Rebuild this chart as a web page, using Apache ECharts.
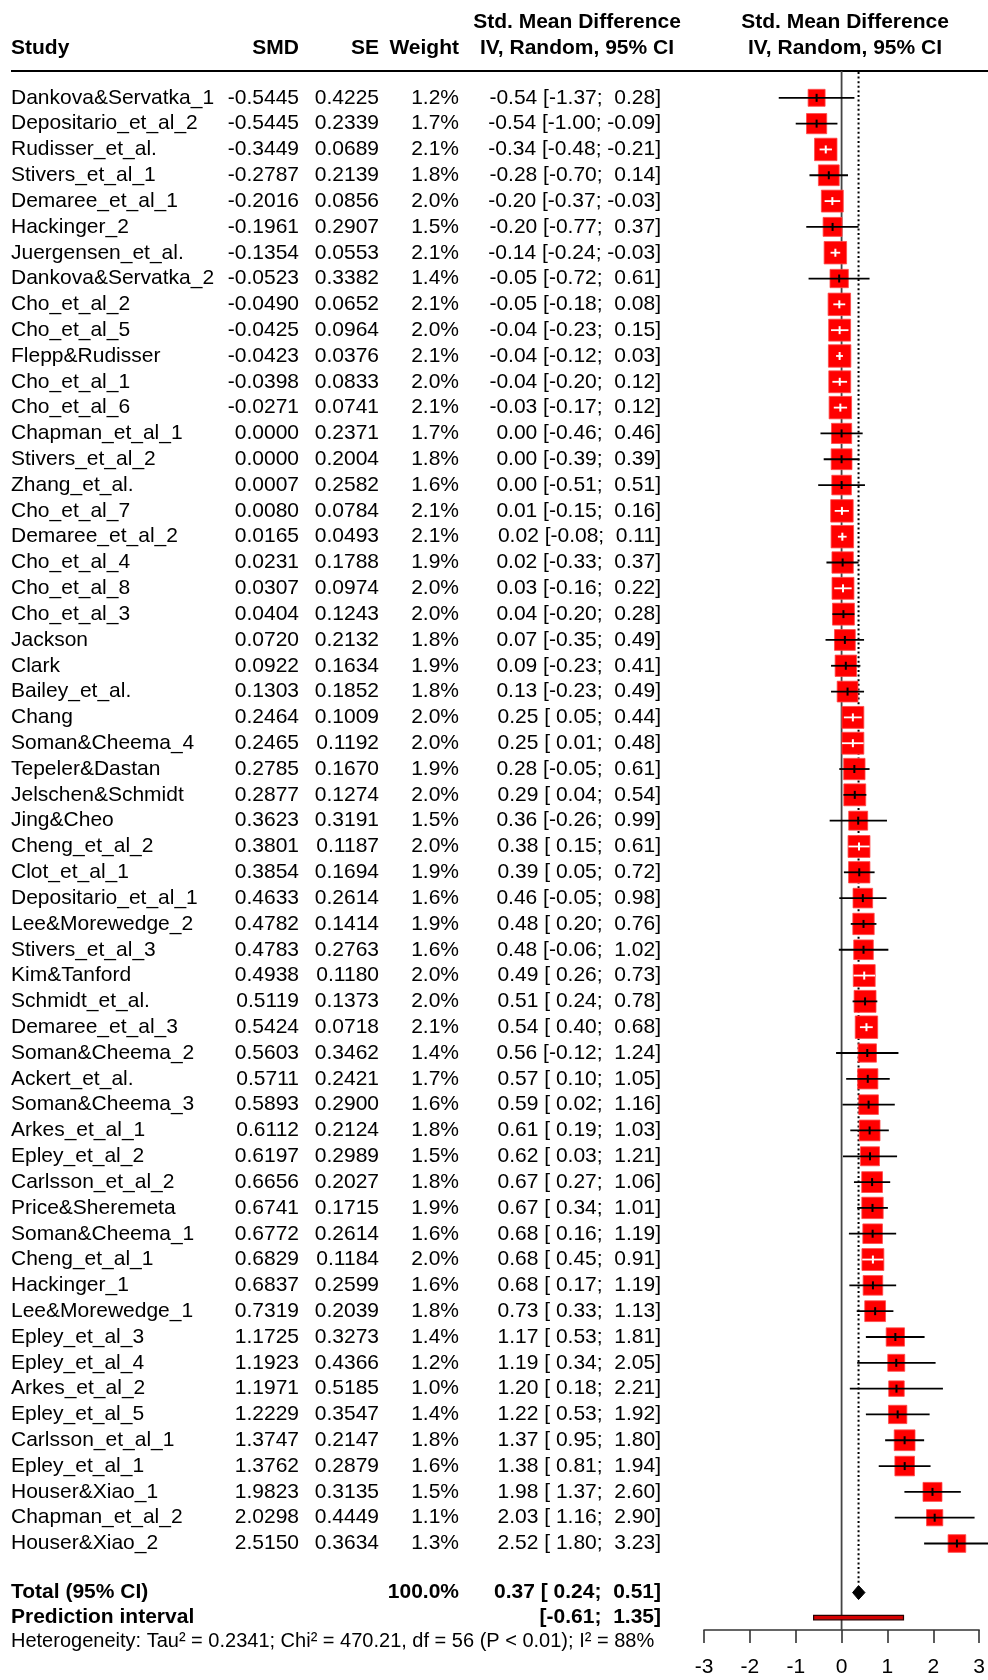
<!DOCTYPE html>
<html>
<head>
<meta charset="utf-8">
<script src="https://cdn.jsdelivr.net/npm/echarts@6/dist/echarts.min.js"></script>
<style>
  html, body { margin: 0; padding: 0; background: #ffffff; }
  #chart { width: 988px; height: 1680px; }
</style>
</head>
<body>
<div id="chart"></div>
<script>
// ---- Study-level data ----
const studies = [
  'Dankova&Servatka_1', 'Depositario_et_al_2', 'Rudisser_et_al.', 'Stivers_et_al_1', 'Demaree_et_al_1',
  'Hackinger_2', 'Juergensen_et_al.', 'Dankova&Servatka_2', 'Cho_et_al_2', 'Cho_et_al_5',
  'Flepp&Rudisser', 'Cho_et_al_1', 'Cho_et_al_6', 'Chapman_et_al_1', 'Stivers_et_al_2',
  'Zhang_et_al.', 'Cho_et_al_7', 'Demaree_et_al_2', 'Cho_et_al_4', 'Cho_et_al_8',
  'Cho_et_al_3', 'Jackson', 'Clark', 'Bailey_et_al.', 'Chang',
  'Soman&Cheema_4', 'Tepeler&Dastan', 'Jelschen&Schmidt', 'Jing&Cheo', 'Cheng_et_al_2',
  'Clot_et_al_1', 'Depositario_et_al_1', 'Lee&Morewedge_2', 'Stivers_et_al_3', 'Kim&Tanford',
  'Schmidt_et_al.', 'Demaree_et_al_3', 'Soman&Cheema_2', 'Ackert_et_al.', 'Soman&Cheema_3',
  'Arkes_et_al_1', 'Epley_et_al_2', 'Carlsson_et_al_2', 'Price&Sheremeta', 'Soman&Cheema_1',
  'Cheng_et_al_1', 'Hackinger_1', 'Lee&Morewedge_1', 'Epley_et_al_3', 'Epley_et_al_4',
  'Arkes_et_al_2', 'Epley_et_al_5', 'Carlsson_et_al_1', 'Epley_et_al_1', 'Houser&Xiao_1',
  'Chapman_et_al_2', 'Houser&Xiao_2'
];

const smd = [
  -0.5445, -0.5445, -0.3449, -0.2787, -0.2016,
  -0.1961, -0.1354, -0.0523, -0.0490, -0.0425,
  -0.0423, -0.0398, -0.0271, 0.0000, 0.0000,
  0.0007, 0.0080, 0.0165, 0.0231, 0.0307,
  0.0404, 0.0720, 0.0922, 0.1303, 0.2464,
  0.2465, 0.2785, 0.2877, 0.3623, 0.3801,
  0.3854, 0.4633, 0.4782, 0.4783, 0.4938,
  0.5119, 0.5424, 0.5603, 0.5711, 0.5893,
  0.6112, 0.6197, 0.6656, 0.6741, 0.6772,
  0.6829, 0.6837, 0.7319, 1.1725, 1.1923,
  1.1971, 1.2229, 1.3747, 1.3762, 1.9823,
  2.0298, 2.5150
];

const se = [
  0.4225, 0.2339, 0.0689, 0.2139, 0.0856,
  0.2907, 0.0553, 0.3382, 0.0652, 0.0964,
  0.0376, 0.0833, 0.0741, 0.2371, 0.2004,
  0.2582, 0.0784, 0.0493, 0.1788, 0.0974,
  0.1243, 0.2132, 0.1634, 0.1852, 0.1009,
  0.1192, 0.1670, 0.1274, 0.3191, 0.1187,
  0.1694, 0.2614, 0.1414, 0.2763, 0.1180,
  0.1373, 0.0718, 0.3462, 0.2421, 0.2900,
  0.2124, 0.2989, 0.2027, 0.1715, 0.2614,
  0.1184, 0.2599, 0.2039, 0.3273, 0.4366,
  0.5185, 0.3547, 0.2147, 0.2879, 0.3135,
  0.4449, 0.3634
];

const weight = [
  1.2, 1.7, 2.1, 1.8, 2.0,
  1.5, 2.1, 1.4, 2.1, 2.0,
  2.1, 2.0, 2.1, 1.7, 1.8,
  1.6, 2.1, 2.1, 1.9, 2.0,
  2.0, 1.8, 1.9, 1.8, 2.0,
  2.0, 1.9, 2.0, 1.5, 2.0,
  1.9, 1.6, 1.9, 1.6, 2.0,
  2.0, 2.1, 1.4, 1.7, 1.6,
  1.8, 1.5, 1.8, 1.9, 1.6,
  2.0, 1.6, 1.8, 1.4, 1.2,
  1.0, 1.4, 1.8, 1.6, 1.5,
  1.1, 1.3
];

const ciLower = [
  -1.37, -1.00, -0.48, -0.70, -0.37,
  -0.77, -0.24, -0.72, -0.18, -0.23,
  -0.12, -0.20, -0.17, -0.46, -0.39,
  -0.51, -0.15, -0.08, -0.33, -0.16,
  -0.20, -0.35, -0.23, -0.23, 0.05,
  0.01, -0.05, 0.04, -0.26, 0.15,
  0.05, -0.05, 0.20, -0.06, 0.26,
  0.24, 0.40, -0.12, 0.10, 0.02,
  0.19, 0.03, 0.27, 0.34, 0.16,
  0.45, 0.17, 0.33, 0.53, 0.34,
  0.18, 0.53, 0.95, 0.81, 1.37,
  1.16, 1.80
];

const ciUpper = [
  0.28, -0.09, -0.21, 0.14, -0.03,
  0.37, -0.03, 0.61, 0.08, 0.15,
  0.03, 0.12, 0.12, 0.46, 0.39,
  0.51, 0.16, 0.11, 0.37, 0.22,
  0.28, 0.49, 0.41, 0.49, 0.44,
  0.48, 0.61, 0.54, 0.99, 0.61,
  0.72, 0.98, 0.76, 1.02, 0.73,
  0.78, 0.68, 1.24, 1.05, 1.16,
  1.03, 1.21, 1.06, 1.01, 1.19,
  0.91, 1.19, 1.13, 1.81, 2.05,
  2.21, 1.92, 1.80, 1.94, 2.60,
  2.90, 3.23
];

// ---- Pooled results ----
const pooledEstimate = [0.37, 0.24, 0.51];   // estimate, lower, upper
const predictionInterval = [-0.61, 1.35];
const totalWeight = 100.0;
const hetStats = { tau2: '0.2341', chi2: '470.21', df: 56, p: '< 0.01', i2: '88%' };

// ---- Axis ----
const axisTicks = [-3, -2, -1, 0, 1, 2, 3];

// ---- Layout ----
const FONT = '"Liberation Sans", Arial, Helvetica, sans-serif';
const FS = 21;
const TEXT_COLOR = '#000000';
const COL_STUDY = 11;
const COL_SMD = 299;
const COL_SE = 379;
const COL_WEIGHT = 459;
const COL_CI = 661;
const COL_CI_HEADER = 577;
const COL_PLOT_HEADER = 845;
const Y_MIN = -1;
const Y_MAX = 59.35;
const ROW_TOTAL = 57.9;
const ROW_PRED = 58.87;
const BOX_K = 15.5;          // square side per sqrt(weight %)
const DIAMOND_H = 14;

function fmt2(v) {
  const r = Math.sign(v) * Math.round(Math.abs(v) * 100 + 1e-6) / 100;
  return (r === 0 ? 0 : r).toFixed(2);
}
function padCI(v) {
  const s = fmt2(v);
  return v >= 0 ? ' ' + s : s;
}
function ciText(est, lo, hi) {
  return fmt2(est) + ' [' + padCI(lo) + '; ' + padCI(hi) + ']';
}
function txt(x, y, text, align, bold, size) {
  return {
    type: 'text',
    x: x, y: y,
    style: {
      text: text,
      fill: TEXT_COLOR,
      fontFamily: FONT,
      fontSize: size || FS,
      fontWeight: bold ? 'bold' : 'normal',
      align: align,
      verticalAlign: 'middle'
    }
  };
}

const chart = echarts.init(document.getElementById('chart'), null, { renderer: 'canvas' });

const studyData = studies.map((name, i) => [smd[i], i, ciLower[i], ciUpper[i], weight[i], se[i]]);

const option = {
  animation: false,
  backgroundColor: '#ffffff',
  grid: { left: 704, right: 1, top: 72, bottom: 50, containLabel: false },
  xAxis: {
    type: 'value',
    min: axisTicks[0],
    max: axisTicks[axisTicks.length - 1],
    interval: 1,
    position: 'bottom',
    axisLine: { show: true, onZero: false, lineStyle: { color: '#333333', width: 1.6 } },
    axisTick: { show: true, length: 13, lineStyle: { color: '#333333', width: 1.6 } },
    axisLabel: { show: true, fontSize: FS, fontFamily: FONT, color: TEXT_COLOR, margin: 27 },
    splitLine: { show: false }
  },
  yAxis: {
    type: 'value',
    inverse: true,
    min: Y_MIN,
    max: Y_MAX,
    show: false,
    splitLine: { show: false }
  },
  graphic: [
    // column headers
    txt(COL_STUDY, 48, 'Study', 'left', true),
    txt(COL_SMD, 48, 'SMD', 'right', true),
    txt(COL_SE, 48, 'SE', 'right', true),
    txt(COL_WEIGHT, 48, 'Weight', 'right', true),
    txt(COL_CI_HEADER, 22, 'Std. Mean Difference', 'center', true),
    txt(COL_CI_HEADER, 48, 'IV, Random, 95% CI', 'center', true),
    txt(COL_PLOT_HEADER, 22, 'Std. Mean Difference', 'center', true),
    txt(COL_PLOT_HEADER, 48, 'IV, Random, 95% CI', 'center', true),
    {
      type: 'line',
      shape: { x1: 11, y1: 71, x2: 988, y2: 71 },
      style: { stroke: '#000000', lineWidth: 1.8 }
    },
    txt(COL_STUDY, 1641,
      'Heterogeneity: Tau\u00B2 = ' + hetStats.tau2 + '; Chi\u00B2 = ' + hetStats.chi2 +
      ', df = ' + hetStats.df + ' (P ' + hetStats.p + '); I\u00B2 = ' + hetStats.i2,
      'left', false, 20)
  ],
  series: [
    {
      // reference lines: no effect (solid) and pooled estimate (dotted)
      type: 'custom',
      name: 'reference',
      z: 1,
      clip: false,
      silent: true,
      data: [[0, Y_MIN]],
      renderItem: function (params, api) {
        const top0 = api.coord([0, Y_MIN]);
        const bot0 = api.coord([0, Y_MAX]);
        const topP = api.coord([pooledEstimate[0], Y_MIN]);
        const botP = api.coord([pooledEstimate[0], ROW_TOTAL]);
        return {
          type: 'group',
          children: [
            { type: 'line', shape: { x1: top0[0], y1: top0[1] - 1, x2: bot0[0], y2: bot0[1] },
              style: { stroke: '#444444', lineWidth: 1.8 } },
            { type: 'line', shape: { x1: topP[0], y1: topP[1], x2: botP[0], y2: botP[1] - DIAMOND_H / 2 },
              style: { stroke: '#000000', lineWidth: 2, lineDash: [2, 2.6] } }
          ]
        };
      }
    },
    {
      type: 'custom',
      name: 'studies',
      z: 2,
      clip: false,
      silent: true,
      encode: { x: [0, 2, 3], y: 1 },
      data: studyData,
      renderItem: function (params, api) {
        const i = params.dataIndex;
        const est = api.value(0);
        const row = api.value(1);
        const lo = api.value(2);
        const hi = api.value(3);
        const w = api.value(4);
        const c = api.coord([est, row]);
        const pLo = api.coord([lo, row]);
        const pHi = api.coord([hi, row]);
        const box = BOX_K * Math.sqrt(w);
        const inside = (pHi[0] - pLo[0]) < box;
        const lc = inside ? '#ffffff' : '#000000';
        const y = c[1];
        return {
          type: 'group',
          children: [
            { type: 'rect', shape: { x: c[0] - box / 2, y: y - box / 2, width: box, height: box },
              style: { fill: '#ff0000', stroke: '#ff4a4a', lineWidth: 0.8 } },
            { type: 'line', shape: { x1: pLo[0], y1: y, x2: pHi[0], y2: y },
              style: { stroke: lc, lineWidth: 1.8 } },
            { type: 'line', shape: { x1: c[0], y1: y - 4, x2: c[0], y2: y + 4 },
              style: { stroke: lc, lineWidth: 2 } },
            txt(COL_STUDY, y, studies[i], 'left', false),
            txt(COL_SMD, y, est.toFixed(4), 'right', false),
            txt(COL_SE, y, api.value(5).toFixed(4), 'right', false),
            txt(COL_WEIGHT, y, w.toFixed(1) + '%', 'right', false),
            txt(COL_CI, y, ciText(est, lo, hi), 'right', false)
          ]
        };
      }
    },
    {
      type: 'custom',
      name: 'Total (95% CI)',
      z: 3,
      clip: false,
      silent: true,
      data: [[pooledEstimate[0], ROW_TOTAL, pooledEstimate[1], pooledEstimate[2]]],
      renderItem: function (params, api) {
        const row = api.value(1);
        const c = api.coord([api.value(0), row]);
        const l = api.coord([api.value(2), row]);
        const r = api.coord([api.value(3), row]);
        const h = DIAMOND_H / 2;
        return {
          type: 'group',
          children: [
            { type: 'polygon',
              shape: { points: [[l[0], c[1]], [c[0], c[1] - h], [r[0], c[1]], [c[0], c[1] + h]] },
              style: { fill: '#000000', stroke: '#000000', lineWidth: 1 } },
            txt(COL_STUDY, c[1], 'Total (95% CI)', 'left', true),
            txt(COL_WEIGHT, c[1], totalWeight.toFixed(1) + '%', 'right', true),
            txt(COL_CI, c[1], ciText(api.value(0), api.value(2), api.value(3)), 'right', true)
          ]
        };
      }
    },
    {
      type: 'custom',
      name: 'Prediction interval',
      z: 3,
      clip: false,
      silent: true,
      data: [[predictionInterval[0], ROW_PRED, predictionInterval[1]]],
      renderItem: function (params, api) {
        const row = api.value(1);
        const l = api.coord([api.value(0), row]);
        const r = api.coord([api.value(2), row]);
        return {
          type: 'group',
          children: [
            { type: 'rect', shape: { x: l[0], y: l[1] - 2.2, width: r[0] - l[0], height: 4.4 },
              style: { fill: '#d40000', stroke: '#2a0000', lineWidth: 1.2 } },
            txt(COL_STUDY, l[1], 'Prediction interval', 'left', true),
            txt(COL_CI, l[1], '[' + padCI(api.value(0)) + '; ' + padCI(api.value(2)) + ']', 'right', true)
          ]
        };
      }
    }
  ]
};

chart.setOption(option);
</script>
</body>
</html>
